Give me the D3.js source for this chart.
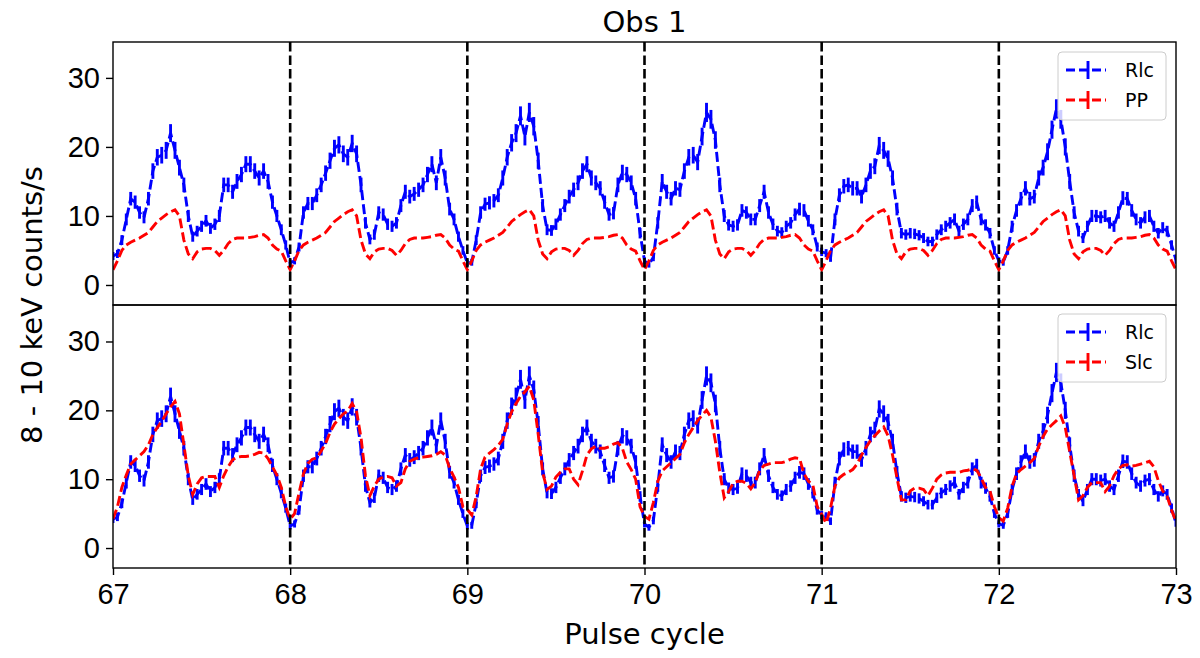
<!DOCTYPE html>
<html>
<head>
<meta charset="utf-8">
<script src="https://cdn.jsdelivr.net/npm/d3@7"></script>
<style>
	body { margin:0; background:#fff; }
	svg { display:block; font-family:'DejaVu Sans', sans-serif; }
</style>
</head>
<body>
<div class="top"></div>
<script>

const firstCycle = 67;
const binsPerCycle = 40;
const cycleLines = [68,69,70,71,72];
const xTicks = [67,68,69,70,71,72,73];
const yTicks = [0,10,20,30];

// Rlc, 40 bins a cycle
const rlc67 = [4.2,4.5,6.5,9.5,12.5,12.0,10.5,9.8,12.5,16.5,18.5,18.8,19.5,22.0,19.5,17.0,14.5,10.0,7.0,7.8,8.5,9.3,8.2,8.8,10.0,14.5,14.5,13.5,15.0,16.0,17.5,17.5,16.5,15.5,16.5,15.0,12.0,10.0,8.0,5.8];
const rlc68 = [3.2,3.5,5.5,10.5,11.8,11.8,13.0,14.5,16.2,18.0,19.8,20.3,19.0,18.5,20.5,19.0,14.5,9.0,6.6,7.3,10.5,10.2,8.8,8.5,9.0,11.5,13.5,12.8,13.2,13.8,14.5,16.0,17.5,14.8,18.5,15.5,11.0,9.5,7.0,5.0];
const rlc69 = [3.2,3.3,6.5,10.5,11.7,11.9,12.2,13.0,15.5,18.5,20.6,22.0,24.5,21.5,25.0,23.0,18.0,11.5,8.0,7.9,8.8,10.2,11.5,12.8,13.8,14.8,16.5,17.5,15.5,14.8,14.0,12.0,10.2,10.4,14.5,16.3,16.0,14.8,12.5,7.5];
const rlc70 = [3.5,3.0,4.0,9.0,15.0,13.5,12.5,14.0,13.8,16.5,18.5,18.8,17.8,21.5,25.0,24.0,21.0,14.5,10.0,8.7,8.5,8.7,10.8,10.5,9.5,9.5,11.5,13.5,10.5,8.8,7.8,7.6,8.5,9.0,10.2,11.0,10.8,9.3,8.0,5.5];
const rlc71 = [4.8,4.6,3.9,9.5,13.0,14.3,14.5,14.0,14.0,12.8,14.5,16.5,17.2,20.2,19.5,18.3,15.5,11.0,7.5,7.3,7.5,7.4,7.2,6.8,6.3,6.3,7.3,8.0,8.5,9.0,9.5,7.8,8.8,9.5,11.5,12.0,9.5,8.7,7.5,5.0];
const rlc72 = [3.5,3.3,5.0,8.5,10.8,12.5,14.0,12.5,12.8,15.5,17.0,19.3,22.5,25.5,24.0,20.0,15.0,10.5,7.8,6.8,8.5,10.0,10.0,9.8,10.0,9.0,8.5,10.5,12.6,12.5,10.8,9.5,9.0,9.8,10.0,8.5,7.5,8.3,7.8,5.8];
const rlcEnd = 3.6;

// Slc
const slc67 = [4.2,6.0,8.8,10.6,12.2,12.8,13.4,14.0,15.0,16.5,17.5,18.4,19.5,20.5,21.3,19.5,15.0,10.5,7.8,9.3,10.2,10.4,10.4,10.4,8.8,10.5,11.8,12.8,13.2,13.3,13.3,13.4,13.6,13.9,13.8,13.0,11.8,10.6,8.8,6.0];
const slc68 = [4.2,5.0,8.0,10.8,12.3,12.9,13.1,14.1,15.2,16.8,18.0,18.8,19.5,19.9,21.0,19.8,16.0,10.5,7.6,9.0,10.0,10.3,10.4,10.2,9.0,9.5,11.5,12.6,12.9,13.1,13.2,13.3,13.4,13.6,14.0,13.5,11.6,10.3,8.8,6.0];
const slc69 = [5.6,4.8,7.5,11.5,13.2,13.8,14.3,14.9,15.8,18.0,19.8,21.0,22.0,22.7,23.5,21.5,16.5,11.0,8.5,9.0,10.3,11.0,11.5,11.5,10.0,9.2,11.2,13.5,14.4,14.8,14.5,14.5,14.7,15.1,15.3,14.5,12.5,11.4,10.0,6.0];
const slc70 = [4.6,4.2,6.6,9.7,11.2,11.8,12.4,13.0,13.6,15.3,16.5,17.5,18.5,19.3,20.0,19.0,15.5,11.0,7.3,8.2,9.4,9.7,9.7,9.4,8.6,9.5,11.3,12.0,12.2,12.4,12.4,12.4,12.6,12.9,13.1,13.0,10.8,9.7,9.2,6.0];
const slc71 = [4.9,3.6,5.8,9.0,10.2,10.7,11.0,11.4,12.2,13.5,14.6,15.6,16.3,17.0,17.6,16.3,13.5,10.2,7.0,7.0,8.3,8.7,8.7,8.5,7.6,8.7,10.0,10.6,10.9,11.0,11.0,11.0,11.2,11.3,11.5,11.3,10.2,8.8,8.3,6.0];
const slc72 = [4.4,3.9,5.8,9.0,10.8,11.4,11.9,12.4,13.0,14.8,16.2,17.3,17.9,18.5,19.2,17.5,14.0,10.5,7.0,7.6,8.8,9.5,9.5,9.5,8.2,9.0,10.5,11.5,12.0,12.1,11.9,12.0,12.2,12.4,12.6,11.8,9.8,8.3,7.5,5.5];
const slcEnd = 3.9;

// pulse profile, one cycle, folded
const ppProfile = [2.2,3.5,5.0,5.8,6.2,6.5,6.8,7.2,7.6,8.4,9.2,9.7,10.2,10.6,10.9,10.0,6.5,4.5,3.8,4.8,5.2,5.3,5.3,5.0,4.3,5.0,6.0,6.6,6.8,6.8,6.8,6.9,7.0,7.2,7.3,6.8,5.8,5.2,4.9,3.5];

// seconds per bin, for the counting errors of Rlc
const binExposure = 13;

const rlc = [rlc67,rlc68,rlc69,rlc70,rlc71,rlc72].flat().concat([rlcEnd]);
const slc = [slc67,slc68,slc69,slc70,slc71,slc72].flat().concat([slcEnd]);
const pp = [rlc67,rlc68,rlc69,rlc70,rlc71,rlc72].flatMap(()=>ppProfile).concat([ppProfile[0]]);

const toPts = arr => arr.map((v,i)=>({x:firstCycle + i/binsPerCycle, y:v, e:Math.sqrt(v/binExposure)}));

const W = 1200, H = 658;
const L = 113, R = 1176;
const x = d3.scaleLinear().domain([67,73]).range([L,R]);
const yTop = d3.scaleLinear().domain([-2.9,35.2]).range([305,42]);
const yBot = d3.scaleLinear().domain([-2.9,35.3]).range([568,305]);

const BLUE = '#0000ff', RED = '#ff0000';
const DASH = '10,4.2';
const LW = 2.9;

const svg = d3.select('.top')
	.selectChildren('svg').data([1])
		.join('svg')
			.attr('width',W)
			.attr('height',H);

svg.selectChildren('defs').data([1]).join('defs')
	.selectAll('clipPath').data([['clipTop',42,305],['clipBot',305,568]])
		.join('clipPath').attr('id',d=>d[0])
			.selectChildren('rect').data(d=>[d])
				.join('rect')
					.attr('x',L).attr('y',d=>d[1])
					.attr('width',R-L).attr('height',d=>d[2]-d[1]);

function panel(cls, y, clip, series, legend, legendTop) {

	const g = svg.selectChildren('.'+cls).data([1])
		.join('g').attr('class',cls);

	const data = g.selectChildren('.data').data([1])
		.join('g').attr('class','data')
			.attr('clip-path','url(#'+clip+')');

	const line = d3.line().x(d=>x(d.x)).y(d=>y(d.y));

	series.forEach((s,k)=>{
		if (s.err) {
			data.selectAll('.err'+k).data(s.pts)
				.join('line').attr('class','err'+k)
					.attr('x1',d=>x(d.x)).attr('x2',d=>x(d.x))
					.attr('y1',d=>y(d.y-d.e)).attr('y2',d=>y(d.y+d.e))
					.attr('stroke',s.color)
					.attr('stroke-width',LW);
		}
		data.selectAll('.ln'+k).data([s.pts])
			.join('path').attr('class','ln'+k)
				.attr('d',line)
				.attr('fill','none')
				.attr('stroke',s.color)
				.attr('stroke-width',LW)
				.attr('stroke-dasharray',DASH);
	});

	g.selectChildren('.yaxis').data([1])
		.join('g').attr('class','yaxis')
			.attr('transform','translate('+L+',0)')
			.call(d3.axisLeft(y).tickValues(yTicks).tickSize(7).tickPadding(6))
			.call(sel=>{
				sel.select('.domain').remove();
				sel.selectAll('line').attr('stroke-width',1.4);
				sel.selectAll('text').style('font-size','29px').attr('fill','#000');
			});

	const lg = g.selectChildren('.legend').data([1])
		.join('g').attr('class','legend')
			.attr('transform','translate(1058,'+legendTop+')');

	lg.selectChildren('rect').data([1])
		.join('rect')
			.attr('width',108).attr('height',68)
			.attr('rx',4)
			.attr('fill','#fff').attr('fill-opacity',0.8)
			.attr('stroke','#cccccc').attr('stroke-width',1);

	lg.selectAll('.item').data(legend)
		.join('g').attr('class','item')
			.attr('transform',(d,i)=>'translate(0,'+(18+i*30)+')')
			.call(sel=>{
				sel.selectChildren('.sample').data(d=>[d])
					.join('line').attr('class','sample')
						.attr('x1',8).attr('x2',48)
						.attr('stroke',d=>d.color)
						.attr('stroke-width',LW)
						.attr('stroke-dasharray','9,4');
				sel.selectChildren('.bar').data(d=>[d])
					.join('line').attr('class','bar')
						.attr('x1',30).attr('x2',30)
						.attr('y1',-9).attr('y2',9)
						.attr('stroke',d=>d.color)
						.attr('stroke-width',LW);
				sel.selectChildren('text').data(d=>[d])
					.join('text')
						.attr('x',67)
						.attr('y',7)
						.style('font-size','19px')
						.text(d=>d.name);
			});
}

panel('p-top', yTop, 'clipTop',
	[{pts:toPts(rlc), color:BLUE, err:true}, {pts:toPts(pp), color:RED}],
	[{name:'Rlc', color:BLUE}, {name:'PP', color:RED}], 52);

panel('p-bot', yBot, 'clipBot',
	[{pts:toPts(rlc), color:BLUE, err:true}, {pts:toPts(slc), color:RED}],
	[{name:'Rlc', color:BLUE}, {name:'Slc', color:RED}], 314);

// cycle boundaries through both panels
svg.selectAll('.cycle').data(cycleLines)
	.join('line').attr('class','cycle')
		.attr('x1',d=>x(d)).attr('x2',d=>x(d))
		.attr('y1',42).attr('y2',568)
		.attr('stroke','#000')
		.attr('stroke-width',2.6)
		.attr('stroke-dasharray','9.5,4');

// frames
svg.selectAll('.frame').data([[42,305],[305,568]])
	.join('rect').attr('class','frame')
		.attr('x',L).attr('y',d=>d[0])
		.attr('width',R-L).attr('height',d=>d[1]-d[0])
		.attr('fill','none')
		.attr('stroke','#000')
		.attr('stroke-width',1.4);

svg.selectChildren('.xaxis').data([1])
	.join('g').attr('class','xaxis')
		.attr('transform','translate(0,568)')
		.call(d3.axisBottom(x).tickValues(xTicks).tickFormat(d3.format('d')).tickSize(7).tickPadding(8))
		.call(sel=>{
			sel.select('.domain').remove();
			sel.selectAll('line').attr('stroke-width',1.4);
			sel.selectAll('text').style('font-size','29px').attr('fill','#000');
		});

svg.selectChildren('.title').data([1])
	.join('text').attr('class','title')
		.attr('x',(L+R)/2).attr('y',32)
		.attr('text-anchor','middle')
		.style('font-size','29px')
		.text('Obs 1');

svg.selectChildren('.xlabel').data([1])
	.join('text').attr('class','xlabel')
		.attr('x',(L+R)/2).attr('y',644)
		.attr('text-anchor','middle')
		.style('font-size','29px')
		.text('Pulse cycle');

svg.selectChildren('.ylabel').data([1])
	.join('text').attr('class','ylabel')
		.attr('transform','translate(42,305) rotate(-90)')
		.attr('text-anchor','middle')
		.style('font-size','29px')
		.text('8 - 10 keV counts/s');

</script>
</body>
</html>
